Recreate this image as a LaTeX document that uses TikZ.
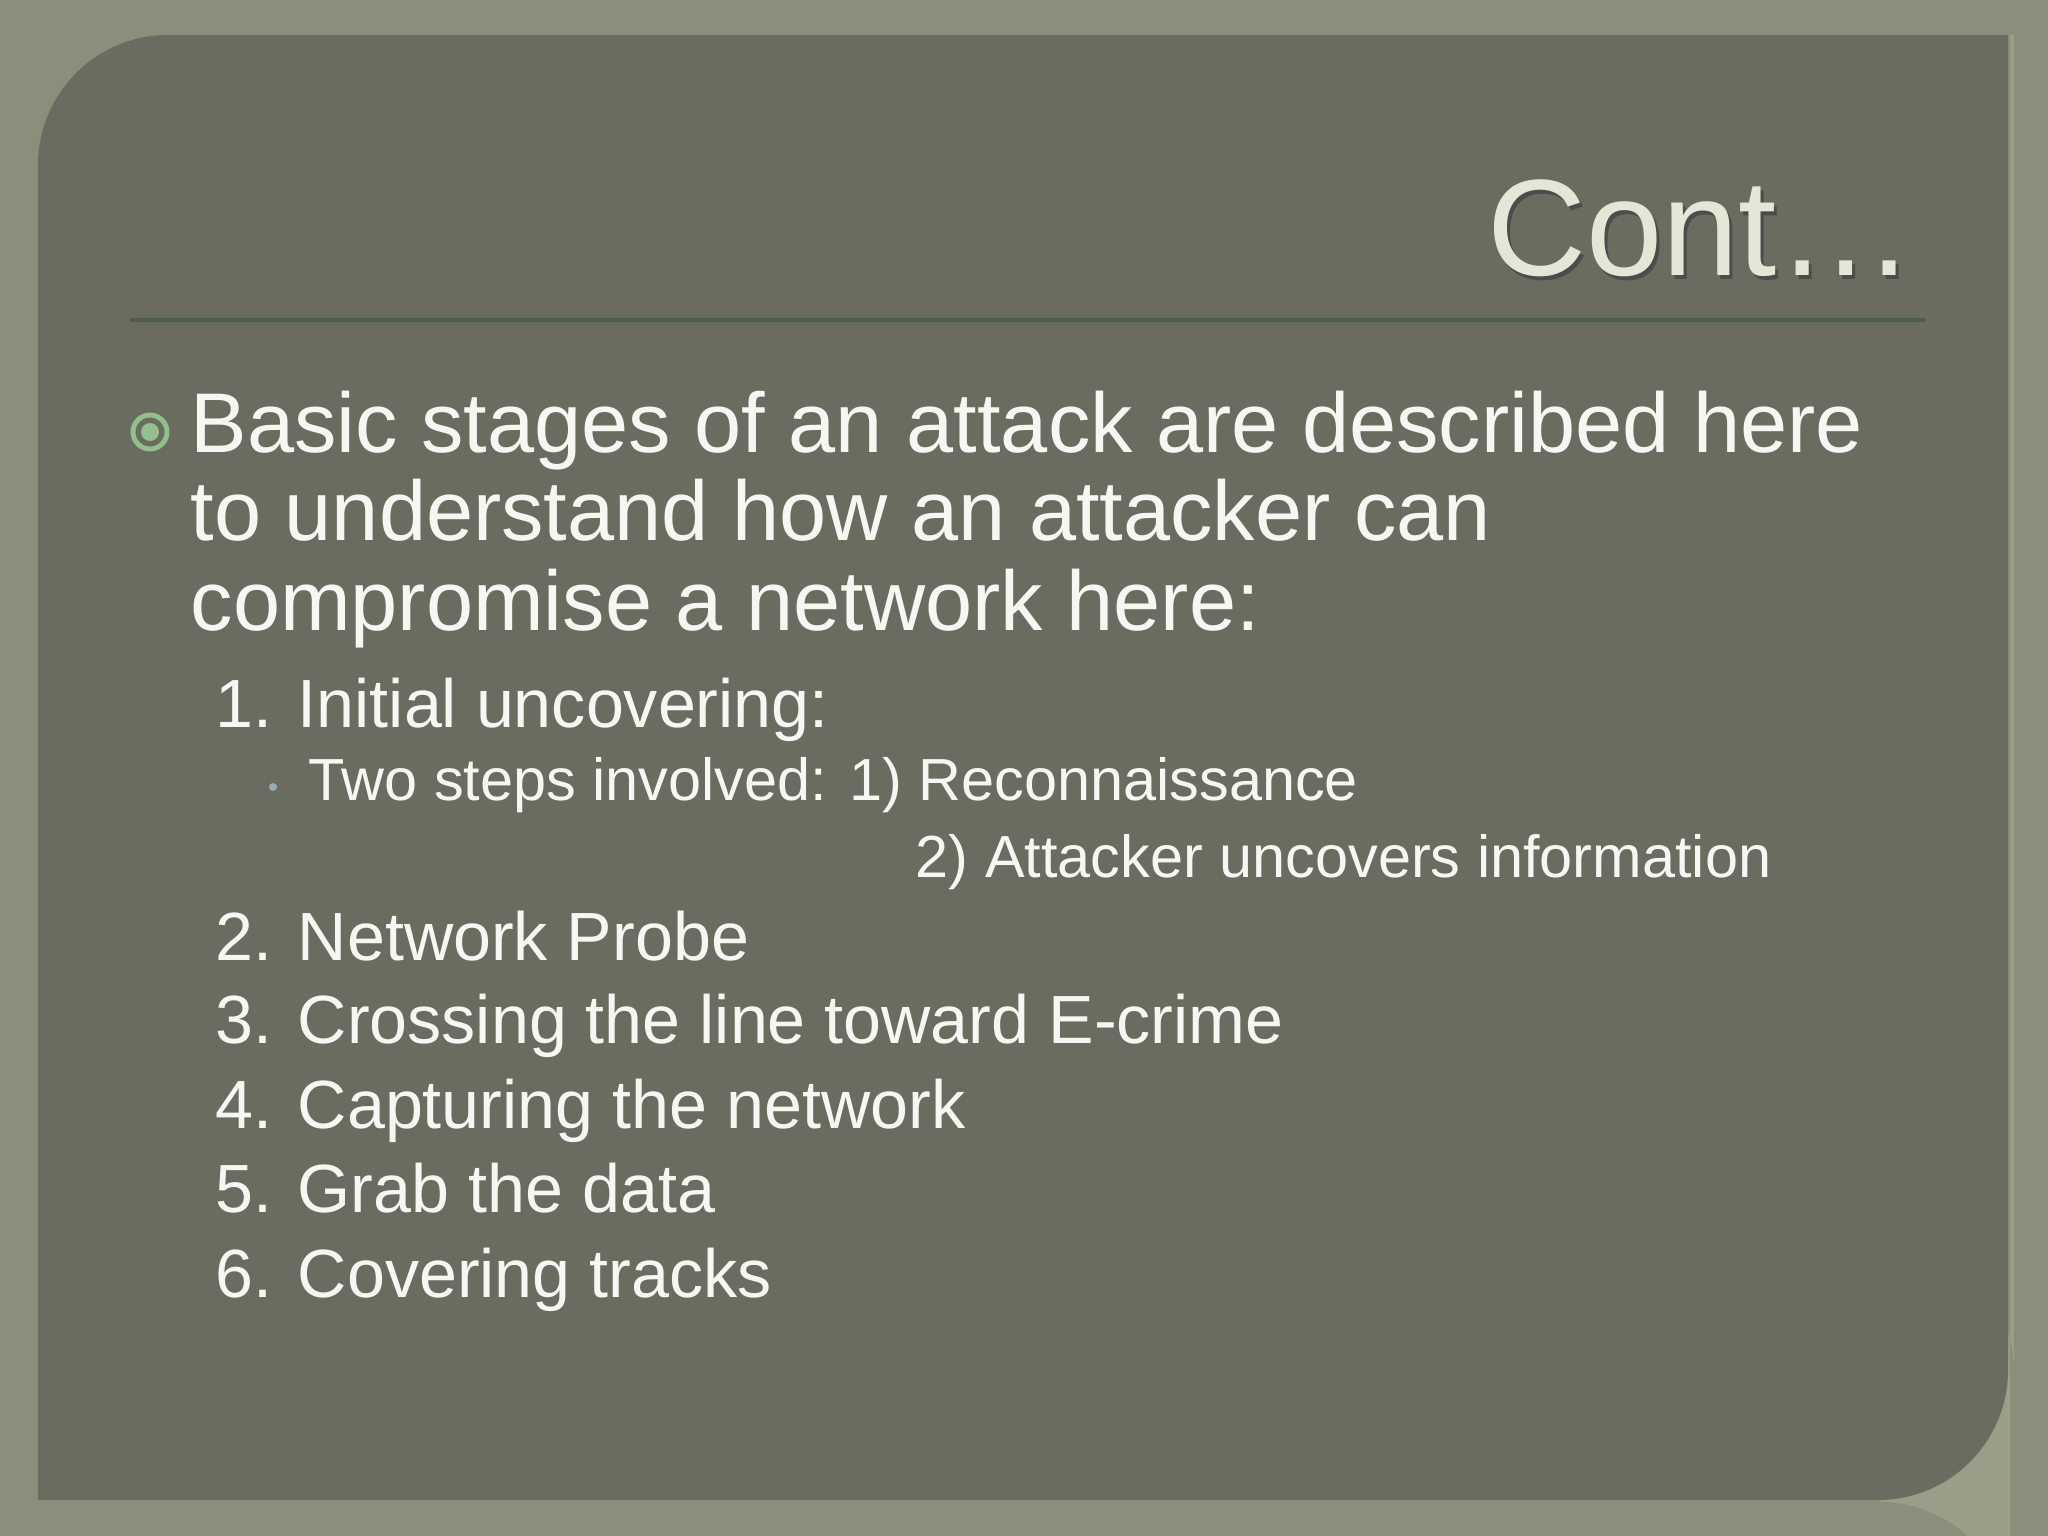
\documentclass[tikz,border=0pt]{standalone}
\usepackage{fontspec}
\setmainfont{Liberation Sans}
\definecolor{outerbg}{HTML}{8A8E7A}
\definecolor{panel}{HTML}{6A6C60}
\definecolor{bevel}{HTML}{9A9E88}
\definecolor{titlec}{HTML}{E6E6D6}
\definecolor{rulec}{HTML}{4C5E4A}
\definecolor{txt}{HTML}{F6F6F2}
\definecolor{bulg}{HTML}{92C08C}
\definecolor{bulb}{HTML}{9AAAB8}
\tikzset{
  body/.style={anchor=base west,text=txt,inner sep=0pt,font=\fontsize{24.1pt}{28pt}\selectfont},
  item/.style={anchor=base west,text=txt,inner sep=0pt,font=\fontsize{19.4pt}{23pt}\selectfont},
  sub/.style={anchor=base west,text=txt,inner sep=0pt,font=\fontsize{16.9pt}{20pt}\selectfont},
}
\begin{document}
\begin{tikzpicture}[x=0.01cm,y=-0.01cm]
\useasboundingbox (0,0) rectangle (2048,1536);
\fill[outerbg] (0,0) rectangle (2048,1536);
\fill[bevel] (1880,1502) arc[start angle=90,end angle=0,x radius=130,y radius=-130] -- (2010,35) -- (2014,35) -- (2014,1372) arc[start angle=0,end angle=90,x radius=134,y radius=-134] -- (1880,1506) -- cycle;
\fill[panel] (38,1500) -- (38,165) arc[start angle=180,end angle=90,x radius=130,y radius=-130] -- (2008,35) -- (2008,1370) arc[start angle=0,end angle=-90,x radius=130,y radius=-130] -- cycle;
\node[anchor=base east,text=black!70,inner sep=0pt,font=\fontsize{39pt}{44pt}\selectfont] (titles) at (1918,279) {Cont…};
\node[anchor=base east,text=titlec,inner sep=0pt,font=\fontsize{39pt}{44pt}\selectfont] (title) at (1915,275) {Cont…};
\draw[rulec,line width=1.2pt] (130,320) -- (1925,320);
\draw[bulg,line width=1.4pt] (150,432) circle (17);
\fill[bulg] (150,432) circle (9);
\node[body] (b1) at (190,452) {Basic stages of an attack are described here};
\node[body] (b2) at (190,540) {to understand how an attacker can};
\node[body] (b3) at (190,630) {compromise a network here:};
\node[item] (i1) at (215,727) {1. Initial uncovering:};
\fill[bulb] (273,787) circle (4);
\node[sub] (s1) at (308,800) {Two steps involved: 1) Reconnaissance};
\node[sub] (s2) at (915,877) {2) Attacker uncovers information};
\node[item] (i2) at (215,960) {2. Network Probe};
\node[item] (i3) at (215,1043) {3. Crossing the line toward E-crime};
\node[item] (i4) at (215,1128) {4. Capturing the network};
\node[item] (i5) at (215,1212) {5. Grab the data};
\node[item] (i6) at (215,1297) {6. Covering tracks};
\end{tikzpicture}
\end{document}
